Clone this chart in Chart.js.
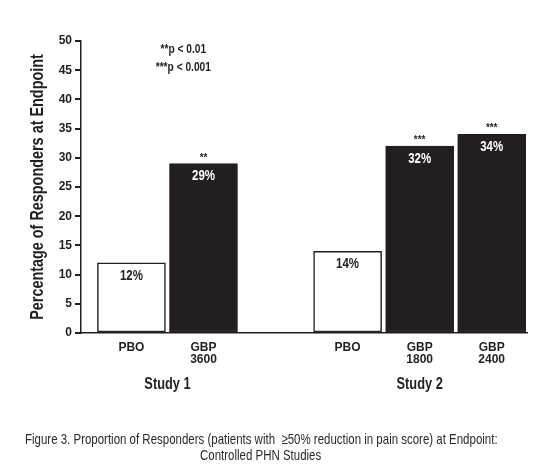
<!DOCTYPE html>
<html>
<head>
<meta charset="utf-8">
<script src="https://cdn.jsdelivr.net/npm/chart.js@4/dist/chart.umd.min.js"></script>
<style>
  html, body { margin: 0; padding: 0; background: #fff; }
  #wrap { position: relative; width: 556px; height: 471px; }
  #chart { position: absolute; left: 0; top: 0; }
  .cap { position: absolute; left: 0; white-space: nowrap; transform-origin: 0 0;
    font-family: 'Liberation Sans', Arial, sans-serif; font-size: 15px; line-height: 16px; color: #2a2a2a; }
</style>
</head>
<body>
<div id="wrap">
  <canvas id="chart" width="556" height="471"></canvas>
  <div class="cap" id="cap1" style="top:431px">Figure 3. Proportion of Responders (patients with &nbsp;≥50% reduction in pain score) at Endpoint:</div>
  <div class="cap" id="cap2" style="top:447px">Controlled PHN Studies</div>
</div>
<script>
// ---- data ----
const categories = [['PBO'], ['GBP', '3600'], ['PBO'], ['GBP', '1800'], ['GBP', '2400']];
const slots = [0, 1, 3, 4, 5];            // category slot index (slot 2 is the gap between studies)
const studies = ['Study 1', 'Study 1', 'Study 2', 'Study 2', 'Study 2'];
const responders = [12, 29, 14, 32, 34];  // % responders
const significance = ['', '**', '', '***', '***'];
const yTicks = [0, 5, 10, 15, 20, 25, 30, 35, 40, 45, 50];
const footnotes = ['**p < 0.01', '***p < 0.001'];
const isPlacebo = [true, false, true, false, false];

const DARK = '#231f20';
const FONT = "'Liberation Sans', Arial, sans-serif";
const SQUEEZE = 0.8;   // narrow-face emulation

// caption: condense horizontally around its centre
(function () {
  const centre = 261, squeeze = 0.765;
  ['cap1', 'cap2'].forEach(id => {
    const el = document.getElementById(id);
    const w = el.getBoundingClientRect().width * squeeze;
    el.style.left = (centre - w / 2) + 'px';
    el.style.transform = 'scaleX(' + squeeze + ')';
  });
})();

function condensedText(ctx, text, x, y, squeeze) {
  ctx.save();
  ctx.translate(x, y);
  ctx.scale(squeeze, 1);
  ctx.fillText(text, 0, 0);
  ctx.restore();
}

const labelsPlugin = {
  id: 'labelsPlugin',
  afterDatasetsDraw(chart) {
    const ctx = chart.ctx;
    const meta = chart.getDatasetMeta(0);
    const xs = chart.scales.x;
    const ys = chart.scales.y;
    ctx.save();
    ctx.textAlign = 'center';
    meta.data.forEach((bar, i) => {
      ctx.font = 'bold 14px ' + FONT;
      ctx.textBaseline = 'top';
      ctx.fillStyle = isPlacebo[i] ? DARK : '#ffffff';
      condensedText(ctx, responders[i] + '%', bar.x, bar.y + 6, 0.82);
      if (significance[i]) {
        ctx.font = 'bold 11px ' + FONT;
        ctx.fillStyle = DARK;
        ctx.textBaseline = 'alphabetic';
        condensedText(ctx, significance[i], bar.x, bar.y - 3, 0.9);
      }
    });
    // study group labels
    const groups = [...new Set(studies)];
    ctx.font = 'bold 16px ' + FONT;
    ctx.fillStyle = DARK;
    ctx.textBaseline = 'top';
    groups.forEach(g => {
      const s = slots.filter((_, i) => studies[i] === g);
      const mid = s.reduce((a, b) => a + b, 0) / s.length;
      condensedText(ctx, g, xs.getPixelForValue(mid), ys.bottom + 44, SQUEEZE);
    });
    // footnotes
    ctx.font = 'bold 12px ' + FONT;
    footnotes.forEach((t, k) => {
      condensedText(ctx, t, xs.getPixelForValue(0.72), ys.top + 3 + k * 18, 0.85);
    });
    // y-axis title
    ctx.font = 'bold 18px ' + FONT;
    ctx.textBaseline = 'middle';
    ctx.save();
    ctx.translate(38, (ys.top + ys.bottom) / 2);
    ctx.rotate(-Math.PI / 2);
    condensedText(ctx, 'Percentage of Responders at Endpoint', 0, 0, SQUEEZE);
    ctx.restore();
    ctx.restore();
  }
};

new Chart(document.getElementById('chart'), {
  type: 'bar',
  data: {
    datasets: [{
      data: responders.map((v, i) => ({ x: slots[i], y: v })),
      backgroundColor: isPlacebo.map(p => p ? '#ffffff' : DARK),
      borderColor: DARK,
      borderWidth: 1.5,
      borderSkipped: false,
      barThickness: 68
    }]
  },
  options: {
    responsive: false,
    animation: false,
    layout: { padding: { left: 0, top: 41, right: 29, bottom: 0 } },
    plugins: { legend: { display: false }, tooltip: { enabled: false } },
    scales: {
      x: {
        type: 'linear',
        offset: false,
        min: -0.7,
        max: 5.49,
        afterFit(scale) { scale.height = 138; },
        afterBuildTicks(scale) { scale.ticks = slots.map(v => ({ value: v })); },
        grid: { display: true, drawOnChartArea: false, drawTicks: false },
        border: { display: true, color: DARK, width: 1.5 },
        ticks: {
          autoSkip: false,
          maxRotation: 0,
          padding: 9,
          color: DARK,
          font: { family: FONT, size: 12, weight: 'bold', lineHeight: 1.0 },
          callback: (v, i) => categories[i]
        }
      },
      y: {
        min: 0,
        max: 50,
        afterFit(scale) { scale.width = 81; },
        afterBuildTicks(scale) { scale.ticks = yTicks.map(v => ({ value: v })); },
        grid: { display: true, drawOnChartArea: false, drawTicks: true, tickLength: 6, color: DARK, lineWidth: 2 },
        border: { display: true, color: DARK, width: 1.5 },
        ticks: {
          padding: 3,
          color: DARK,
          font: { family: FONT, size: 12, weight: 'bold' }
        }
      }
    }
  },
  plugins: [labelsPlugin]
});
</script>
</body>
</html>
